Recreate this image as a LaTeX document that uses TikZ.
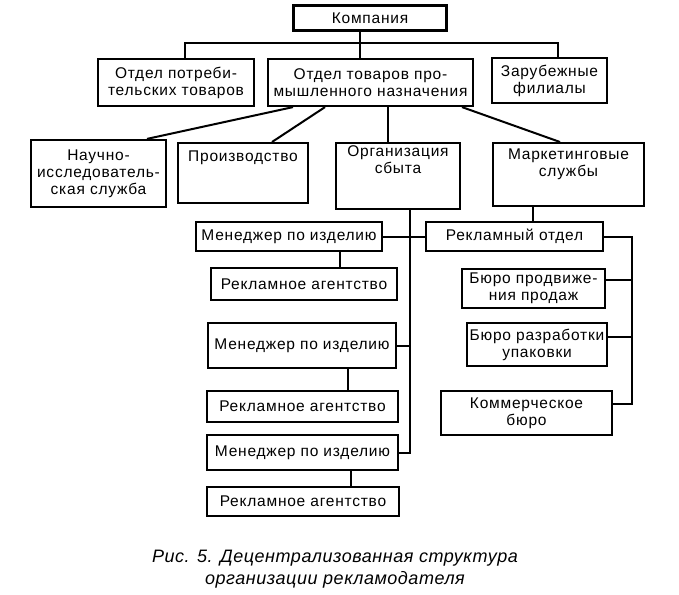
\documentclass[tikz,border=0pt]{standalone}
\usepackage{fontspec}
\setmainfont{Liberation Sans}[LetterSpace=5]
\newfontfamily\capfont{Liberation Sans}[LetterSpace=3]
\begin{document}
\begin{tikzpicture}[x=1pt,y=-1pt,
  box/.style={draw,line width=2.2pt,inner sep=0pt,align=center,font=\fontsize{15.5}{17}\selectfont},
  conn/.style={line width=2pt}]
\useasboundingbox (0,0) rectangle (679,594);
% boxes: center, width, height
\node[box,minimum width=153pt,minimum height=25pt] (komp) at (370,18) {Компания};
\node[box,minimum width=156pt,minimum height=47pt] (potreb) at (176,82.5) {Отдел потреби-\\тельских товаров};
\node[box,minimum width=205pt,minimum height=47pt] (prom) at (370.5,82.5) {Отдел товаров про-\\мышленного назначения};
\node[box,minimum width=115pt,minimum height=45pt] (zarub) at (549.5,80.5) {Зарубежные\\филиалы};
\node[box,minimum width=135pt,minimum height=67pt] (nauch) at (98.5,173.5) {Научно-\\исследователь-\\ская служба};
\node[box,anchor=north,minimum width=130pt,text height=18pt,text depth=42pt] (proizv) at (243,142) {Производство};
\node[box,anchor=north,minimum width=124pt,text height=30pt,text depth=36pt] (org) at (398,142) {Организация\\сбыта};
\node[box,anchor=north,minimum width=151pt,text height=33pt,text depth=30pt] (market) at (568.5,142) {Маркетинговые\\службы};
\node[box,minimum width=186pt,minimum height=29pt] (man1) at (289,236.5) {Менеджер по изделию};
\node[box,minimum width=177pt,minimum height=29pt] (rotd) at (514.5,236.5) {Рекламный отдел};
\node[box,minimum width=186pt,minimum height=32pt] (ra1) at (304,284) {Рекламное агентство};
\node[box,minimum width=188pt,minimum height=45pt] (man2) at (302,345.5) {Менеджер по изделию};
\node[box,minimum width=191pt,minimum height=31pt] (ra2) at (302.5,406.5) {Рекламное агентство};
\node[box,minimum width=191pt,minimum height=35pt] (man3) at (302.5,452.5) {Менеджер по изделию};
\node[box,minimum width=192pt,minimum height=29pt] (ra3) at (303,501.5) {Рекламное агентство};
\node[box,minimum width=143pt,minimum height=39pt] (bprod) at (533.5,288.5) {Бюро продвиже-\\ния продаж};
\node[box,minimum width=140pt,minimum height=43pt] (brazr) at (537,344.5) {Бюро разработки\\упаковки};
\node[box,minimum width=171pt,minimum height=44pt] (kom) at (526.5,413) {Коммерческое\\бюро};
% caption
\node[font=\capfont\itshape\fontsize{18}{22}\selectfont,align=center] (cap) at (335,569) {Рис. 5. Децентрализованная структура\\организации рекламодателя};
% bus coordinates
\coordinate (b1) at (185,43);
\coordinate (b2) at (558,43);
\coordinate (v1) at (410,453);
\coordinate (r1) at (632,237);
\coordinate (r2) at (632,404);
% connectors
\draw[conn] (komp.south -| 360,0) -- (prom.north -| 360,0);
\draw[conn] (potreb.north -| b1) -- (b1) -- (b2) -- (zarub.north -| b2);
\draw[conn] (prom.south -| 293,0) -- (nauch.north -| 147,0);
\draw[conn] (prom.south -| 325,0) -- (proizv.north -| 272,0);
\draw[conn] (prom.south -| 388,0) -- (org.north -| 388,0);
\draw[conn] (prom.south -| 462,0) -- (market.north -| 560,0);
\draw[conn] (org.south -| v1) -- (v1) -- (man3.east |- v1);
\draw[conn] (man1.east) -- (rotd.west |- man1.east);
\draw[conn] (man2.east) -- (man2.east -| v1);
\draw[conn] (man1.south -| 340,0) -- (ra1.north -| 340,0);
\draw[conn] (man2.south -| 348,0) -- (ra2.north -| 348,0);
\draw[conn] (man3.south -| 351,0) -- (ra3.north -| 351,0);
\draw[conn] (market.south -| 533,0) -- (rotd.north -| 533,0);
\draw[conn] (rotd.east |- r1) -- (r1) -- (r2) -- (kom.east |- r2);
\draw[conn] (bprod.east |- 0,280) -- (bprod.east |- 0,280 -| r1);
\draw[conn] (brazr.east |- 0,337) -- (brazr.east |- 0,337 -| r1);
\end{tikzpicture}
\end{document}
